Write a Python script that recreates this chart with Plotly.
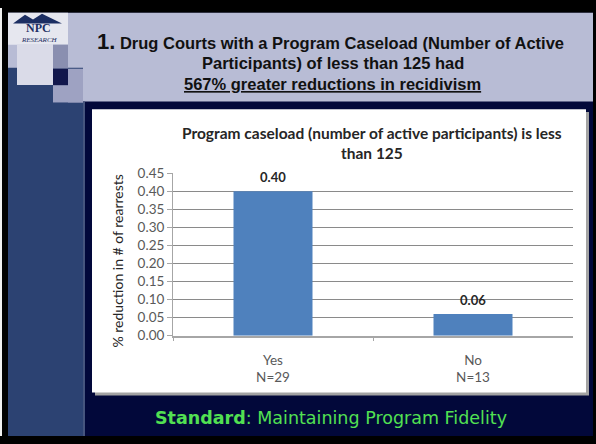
import plotly.graph_objects as go

# ---------------- data ----------------
categories = ["Yes", "No"]
group_sizes = [29, 13]
reduction_values = [0.40, 0.06]
y_tick_values = [0.00, 0.05, 0.10, 0.15, 0.20, 0.25, 0.30, 0.35, 0.40, 0.45]
tick_labels = [f"{c}<br>N={n}" for c, n in zip(categories, group_sizes)]

chart_title_lines = ["Program caseload (number of active participants) is less", "than 125"]
y_title = "% reduction in # of rearrests"
slide_title_lines = [
    "<span style='font-size:22px'>1.</span> Drug Courts with a Program Caseload (Number of Active",
    "Participants) of less than 125 had",
    "567% greater reductions in recidivism",
]
footer = "<b>Standard</b>: Maintaining Program Fidelity"

W, H = 596, 444


def px(x):
    return x / W


def py(y):
    return 1 - y / H


def rect(x0, y0, x1, y1, color):
    return dict(type="rect", xref="paper", yref="paper", x0=px(x0), x1=px(x1),
                y0=py(y1), y1=py(y0), fillcolor=color, line_width=0, layer="below")


NAVY = "#02083a"
LAV = "#b8bcd5"
BLUE = "#2c4272"

shapes = [
    rect(0, 0, 2, H, "#f0f0f0"),
    rect(8, 5, 593, H, NAVY),
    rect(8, 5, 593, 97, LAV),
    rect(8, 62, 83, H, BLUE),
    rect(83, 97, 85, H, "#46557e"),
    # logo squares
    rect(8, 5, 68, 38, "#e6e7ef"),
    rect(17, 38, 53, 80, "#dadbe8"),
    rect(53, 38, 68, 63, "#8a8fb0"),
    rect(68, 63, 83, 98, "#9ea2c2"),
    rect(53, 80, 83, 98, "#9ea2c2"),
    rect(53, 63, 68, 80, "#12174c"),
    # chart panel with shadow
    rect(95, 108, 589, 402, "#a3a3a3"),
    rect(92, 105, 586, 399, "#ffffff"),
    # logo mountain mark
    dict(type="path", xref="paper", yref="paper", layer="below", line_width=0,
         fillcolor="#1c2e62",
         path=f"M {px(13)},{py(16)} L {px(25)},{py(7)} L {px(33)},{py(12)} L {px(42)},{py(6)} L {px(62)},{py(16)} Z"),
]

fig = go.Figure()
fig.add_trace(go.Bar(
    x=categories, y=reduction_values,
    marker=dict(color="#4f81bd", line=dict(width=0)),
    hoverinfo="skip",
))

annotations = []
# data labels
for c, v in zip(categories, reduction_values):
    annotations.append(dict(x=c, y=v, xref="x", yref="y", text=f"<b>{v:.2f}</b>",
                            showarrow=False, xanchor="center", yanchor="middle", yshift=14,
                            font=dict(family="Lato", size=13, color="#262626")))
# slide title
for txt, cx, cy in zip(slide_title_lines, [331, 333, 332], [35, 57, 79]):
    if txt.startswith("567"):
        txt = f"<span style='text-decoration:underline'>{txt}</span>"
    annotations.append(dict(x=px(cx), y=py(cy), xref="paper", yref="paper", text=f"<b>{txt}</b>",
                            showarrow=False, xanchor="center", yanchor="middle",
                            font=dict(family="Liberation Sans", size=16.5, color="#111111")))
# logo text
annotations.append(dict(x=px(38), y=py(21), xref="paper", yref="paper", text="<b>NPC</b>",
                        showarrow=False, xanchor="center", yanchor="middle", borderpad=0,
                        font=dict(family="Liberation Serif", size=12, color="#1c2e62")))
annotations.append(dict(x=px(39), y=py(33.5), xref="paper", yref="paper", text="<i>RESEARCH</i>",
                        showarrow=False, xanchor="center", yanchor="middle", borderpad=0,
                        font=dict(family="Liberation Serif", size=7, color="#1c2e62")))
# chart title
for txt, cy in zip(chart_title_lines, [130, 150]):
    annotations.append(dict(x=px(372), y=py(cy), xref="paper", yref="paper", text=f"<b>{txt}</b>",
                            showarrow=False, xanchor="center", yanchor="middle",
                            font=dict(family="Lato", size=15.5, color="#262626")))
# y-axis title
annotations.append(dict(x=px(118), y=py(263), xref="paper", yref="paper", text=y_title,
                        textangle=-90, showarrow=False, xanchor="center", yanchor="middle",
                        font=dict(family="Lato", size=14, color="#262626")))
# footer
annotations.append(dict(x=px(331), y=py(425), xref="paper", yref="paper", text=footer,
                        showarrow=False, xanchor="center", yanchor="middle",
                        font=dict(family="DejaVu Sans", size=17.5, color="#52e052")))

fig.update_layout(
    width=W, height=H, margin=dict(l=0, r=0, t=0, b=0),
    paper_bgcolor="#000000", plot_bgcolor="rgba(0,0,0,0)",
    showlegend=False, bargap=0.605,
    shapes=shapes, annotations=annotations,
    xaxis=dict(domain=[px(173), px(573)], range=[-0.5, 1.5],
               tickmode="array", tickvals=categories, ticktext=tick_labels,
               tickson="boundaries", ticks="outside", ticklen=4, tickcolor="#a6a6a6",
               showline=True, linecolor="#a6a6a6", linewidth=1.5, showgrid=False,
               ticklabelstandoff=11,
               tickfont=dict(family="Lato", size=13.5, color="#595959")),
    yaxis=dict(domain=[py(340), py(171.25)], range=[0, 0.45],
               tickmode="array", tickvals=y_tick_values, tickformat=".2f",
               ticks="outside", ticklen=5, tickcolor="#a6a6a6",
               showline=True, linecolor="#a6a6a6", linewidth=1,
               showgrid=True, gridcolor="#8a8a8a", gridwidth=1, zeroline=False,
               tickfont=dict(family="Lato", size=13.5, color="#595959")),
)

fig.write_html("out.html", config={"displayModeBar": False},
               post_script="document.body.style.margin='0';document.body.style.overflow='hidden';")
